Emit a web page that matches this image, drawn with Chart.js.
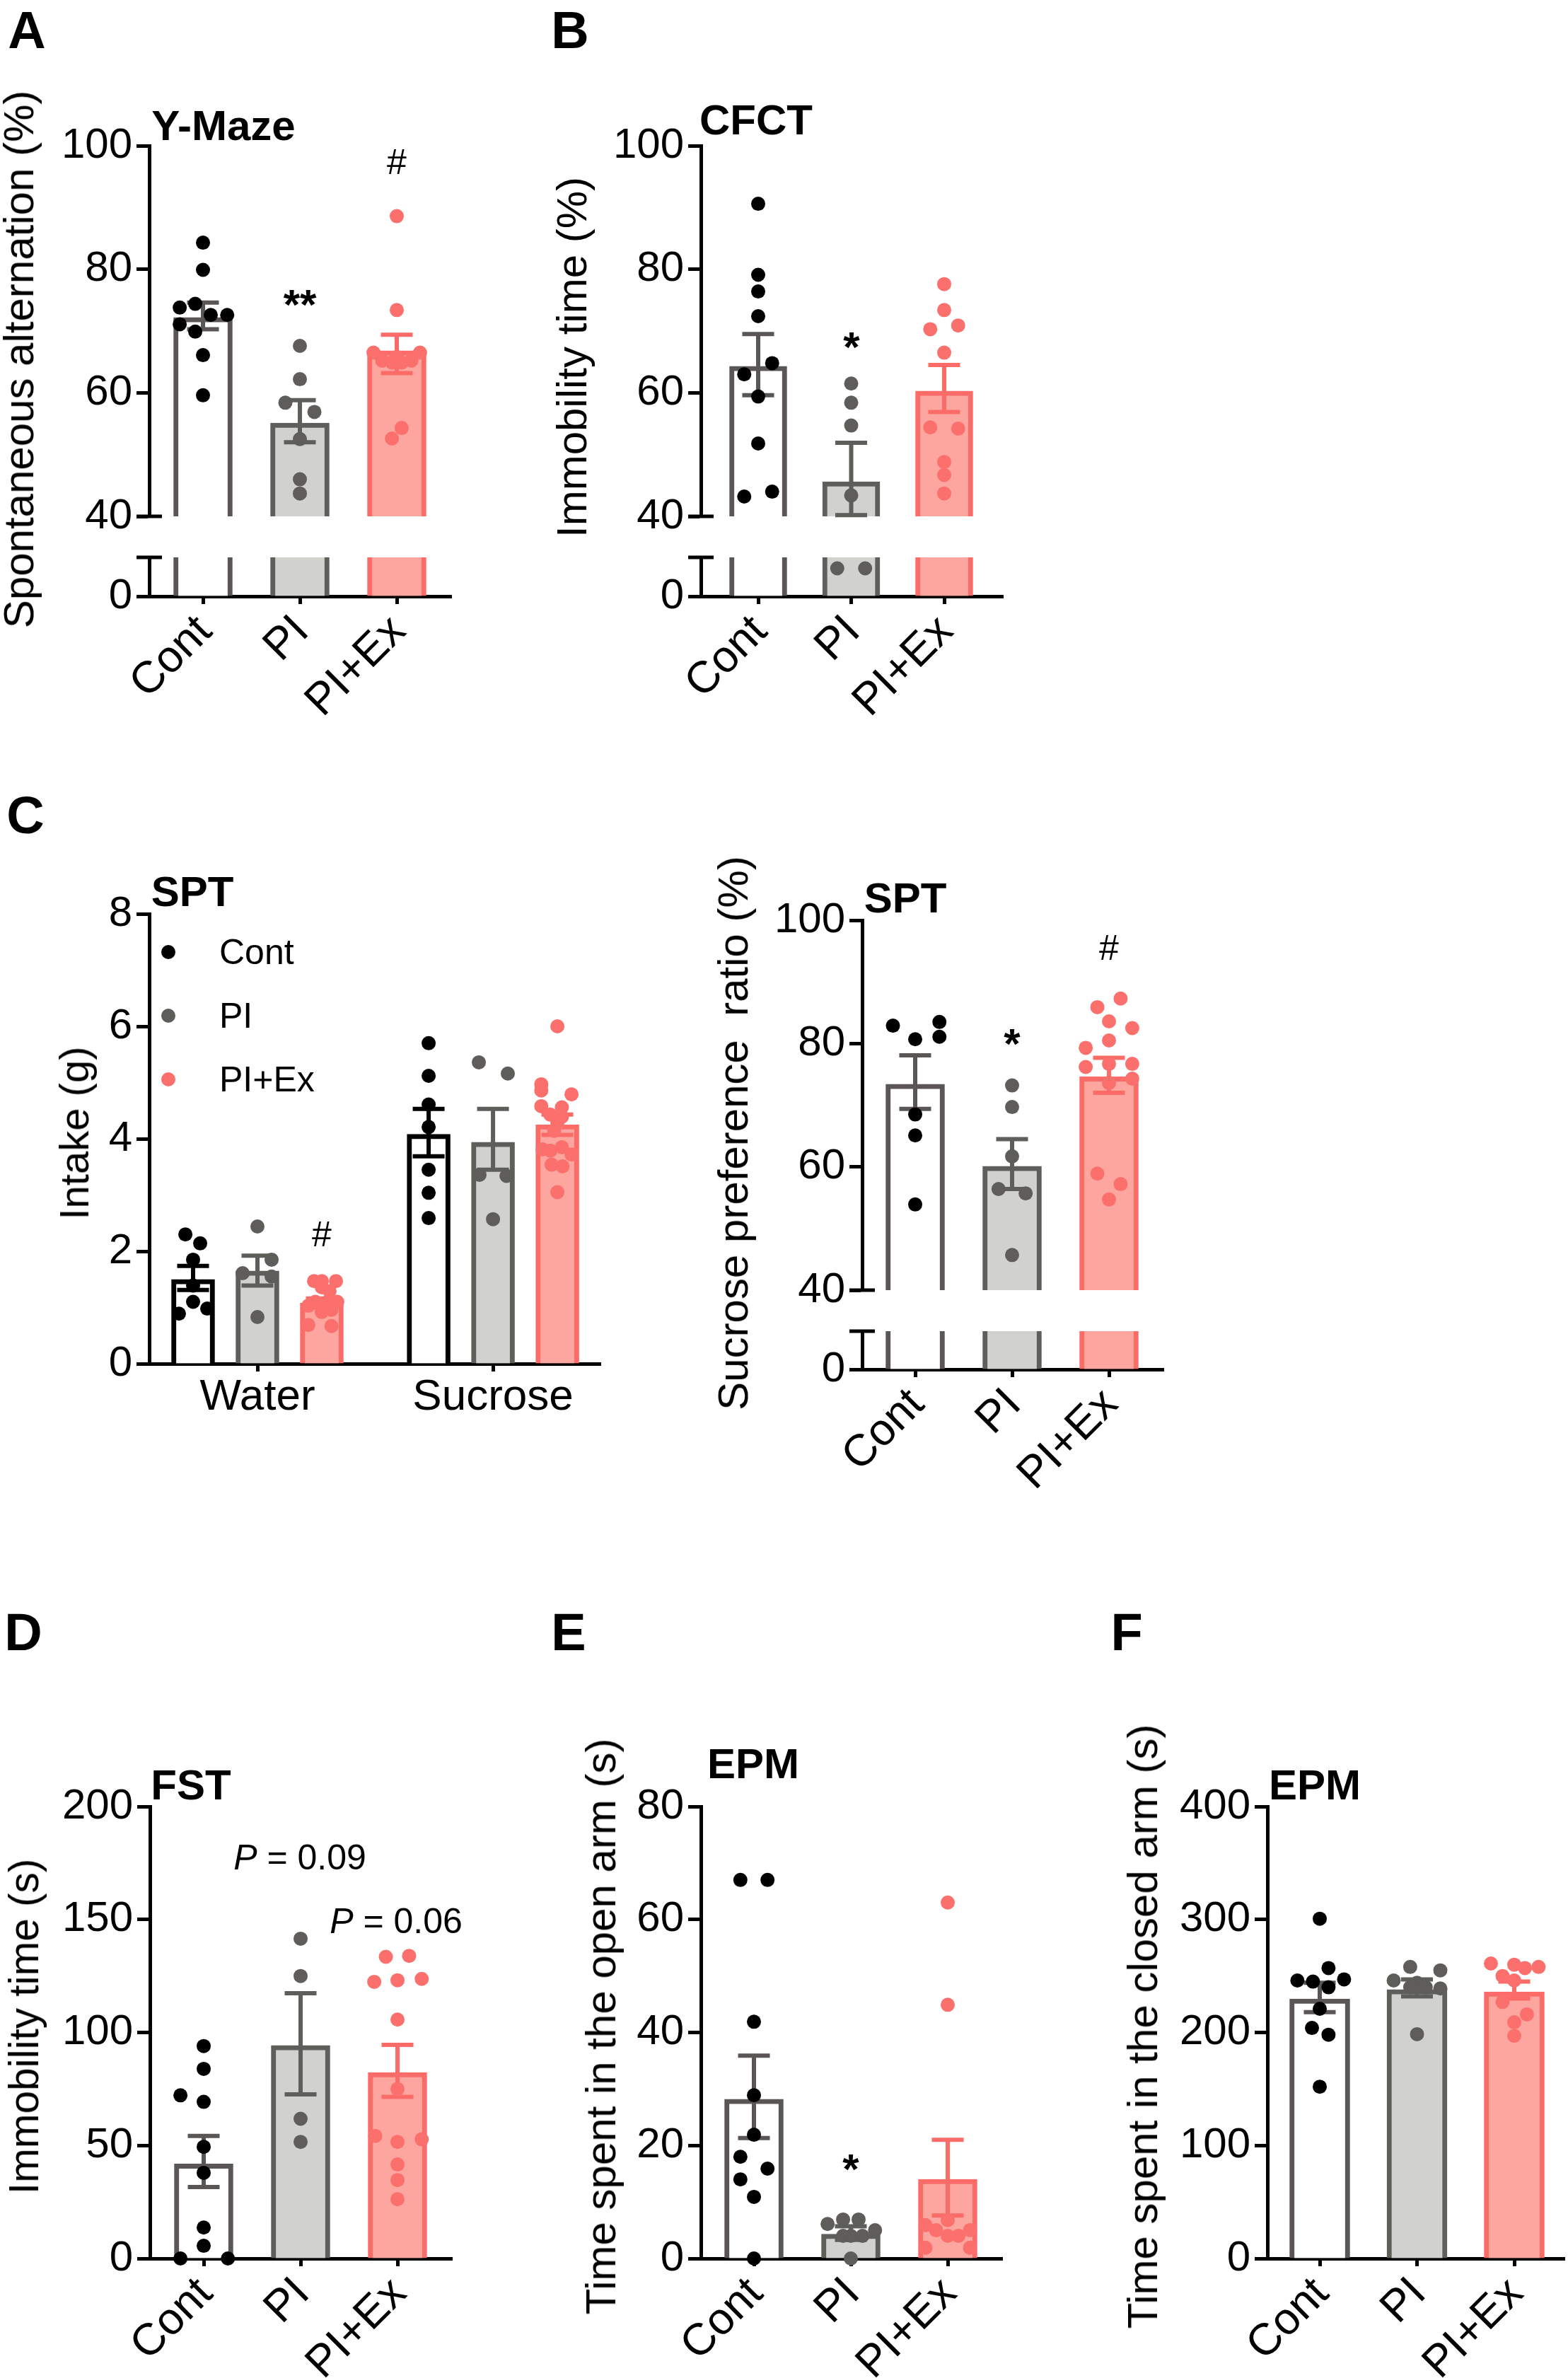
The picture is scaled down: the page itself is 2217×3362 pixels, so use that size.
<!DOCTYPE html>
<html>
<head>
<meta charset="utf-8">
<title>Behavioural tests</title>
<script src="https://cdn.jsdelivr.net/npm/chart.js@4"></script>
<style>
  html, body { margin: 0; background: #fff; }
  #page { position: relative; width: 2217px; height: 3362px; overflow: hidden; font-family: "Liberation Sans", Arial, sans-serif; color: #000; }
  canvas { position: absolute; }
  .txt { position: absolute; white-space: pre; line-height: 0; height: 0; }
  .dot { position: absolute; width: 20px; height: 20px; border-radius: 50%; }
</style>
</head>
<body>
<div id="page"></div>
<script>
const groupLabels = ['Cont', 'PI', 'PI+Ex']
const groupPositions = [0, 1, 2]
const intakeLabels = ['Water', 'Sucrose']
const intakeTicks = [0, 3.66]
const intakePositions = [-1, 0, 1, 2.66, 3.66, 4.66]

// dots are [horizontal jitter, value]
const mazeMeans = [72.2, 55.1, 66.8]
const mazeHigh = [74.6, 58.8, 69.4]
const mazeLow = [70.3, 52.0, 63.2]
const mazeCont = [[0, 84.3], [0, 79.9], [-0.24, 73.8], [-0.08, 74.4], [0.08, 72.6], [0.25, 72.6], [-0.24, 71.1], [-0.08, 69.9], [0, 66.1], [0, 59.6]]
const mazePi = [[0, 67.6], [0, 62.2], [-0.15, 58.4], [0.15, 56.9], [0, 52.5], [0, 46], [0, 43.7]]
const mazeEx = [[0, 88.6], [0, 73.4], [-0.24, 66.5], [0.24, 66.5], [-0.15, 65.2], [-0.05, 64.9], [0.05, 64.9], [0.15, 65.2], [0, 65.8], [0.05, 54.3], [-0.05, 52.6]]

const cfctMeans = [64.3, 45.6, 60.3]
const cfctHigh = [69.5, 51.9, 64.5]
const cfctLow = [59.6, 40.2, 56.9]
const cfctCont = [[0, 90.6], [0, 79.1], [0, 76.4], [0, 72.4], [0.15, 64.8], [-0.15, 63], [0, 59.4], [0, 51.8], [0.15, 44], [-0.15, 43.2]]
const cfctPi = [[0, 61.5], [0, 58.4], [0, 54.7], [0, 43.4], [-0.15, 28.7], [0.15, 28.7]]
const cfctEx = [[0, 77.6], [0, 73.4], [-0.15, 70.3], [0.15, 70.9], [0, 66.5], [-0.15, 54.4], [0.15, 54.2], [0, 48.8], [0, 46.7], [0, 43.7]]

const intakeMeans = [1.5, 1.65, 1.08, 4.08, 3.94, 4.25]
const intakeHigh = [1.74, 1.92, 1.16, 4.53, 4.53, 4.43]
const intakeLow = [1.31, 1.39, 1.0, 3.69, 3.45, 4.07]
const waterCont = [[-0.12, 2.3], [0.11, 2.14], [0, 1.85], [0, 1.39], [0, 1.1], [-0.22, 0.89], [0.22, 0.98]]
const waterPi = [[0, 2.44], [0.22, 1.85], [-0.23, 1.61], [0.22, 1.55], [0, 0.83]]
const waterEx = [[-0.12, 1.47], [0, 1.47], [0.22, 1.47], [0, 1.36], [0.12, 1.29], [-0.1, 1.1], [0.09, 1.1], [0.24, 1.1], [-0.21, 1.03], [0, 0.92], [0.15, 0.96], [-0.21, 0.69], [0.15, 0.67]]
const sucroseCont = [[0, 5.7], [0, 5.12], [0, 4.61], [0, 4.21], [0, 3.45], [0, 3.04], [0, 2.59]]
const sucrosePi = [[-0.22, 5.36], [0.23, 5.16], [-0.21, 3.36], [0.21, 3.34], [0, 2.57]]
const sucroseEx = [[0, 6], [-0.25, 4.97], [0.22, 4.79], [-0.25, 4.86], [-0.25, 4.58], [0.07, 4.56], [-0.11, 4.43], [0.07, 4.39], [0, 4.28], [-0.05, 4.14], [-0.23, 3.81], [0.07, 3.85], [0.22, 3.72], [-0.11, 3.79], [-0.09, 3.54], [0.08, 3.51], [0, 3.05]]

const ratioMeans = [73.4, 60.1, 74.6]
const ratioHigh = [78.1, 64.5, 77.7]
const ratioLow = [69.4, 56.4, 72]
const ratioCont = [[-0.23, 82.9], [0.25, 83.5], [0.25, 81.1], [0, 80.7], [0, 68.5], [0, 65.1], [0, 53.9]]
const ratioPi = [[0, 73.2], [0, 69.7], [0, 61.7], [-0.14, 56.4], [0.14, 55.7], [0, 45.7]]
const ratioEx = [[0.12, 87.3], [-0.12, 85.9], [0, 83.6], [0.24, 82.5], [0, 80.5], [-0.24, 79.3], [0, 76.7], [0.24, 76.7], [-0.24, 76.2], [0, 73.6], [0.24, 74.3], [-0.12, 58.9], [0.12, 57.2], [0, 54.7]]

const fstMeans = [41.8, 94.3, 82.3]
const fstHigh = [54.2, 117.4, 94.5]
const fstLow = [31.6, 72.6, 71.5]
const fstCont = [[0, 94], [0, 83.9], [-0.24, 72.2], [0, 69.3], [0, 49.4], [0, 37.9], [0, 13.7], [0, 5.6], [-0.24, 0], [0.25, 0]]
const fstPi = [[0, 141.5], [0, 125], [0, 61.8], [0, 51.6]]
const fstEx = [[-0.12, 133.5], [0.12, 133.9], [-0.24, 122.4], [0, 123.1], [0.25, 123.7], [0, 105.7], [0, 75], [-0.23, 54.2], [0.25, 52.7], [0, 51.6], [0, 41.6], [0, 34.7], [0, 26.2]]

const openMeans = [28.2, 4.3, 14]
const openHigh = [35.9, 5.7, 21]
const openLow = [21.3, 3.3, 7.6]
const openCont = [[-0.14, 67], [0.14, 67], [0, 41.9], [0, 28.9], [0, 21.9], [-0.14, 18], [0.14, 15.9], [-0.14, 14], [0, 10.9], [0, 0]]
const openPi = [[-0.24, 6.1], [-0.08, 6.9], [0.08, 6.9], [0.25, 5], [-0.08, 4], [0, 4], [0.12, 4], [0, 0]]
const openEx = [[0, 63], [0, 44.9], [0, 6.8], [-0.23, 5.9], [-0.12, 5], [0.23, 5], [0, 4], [0.11, 4], [-0.23, 1.9], [0.23, 1.9]]

const closedMeans = [229.7, 238, 236]
const closedHigh = [244, 247, 245]
const closedLow = [218, 232, 230]
const closedCont = [[0, 300.7], [0.09, 257], [-0.23, 246], [-0.07, 245], [0.25, 247], [0.09, 240], [0, 221], [-0.08, 204], [0.09, 198], [0, 152]]
const closedPi = [[-0.07, 258], [0.24, 255], [-0.24, 246], [0, 244], [-0.07, 240], [0.09, 240], [0.24, 239], [0, 198.5]]
const closedEx = [[-0.24, 261], [0, 260], [0.11, 257], [0.25, 258], [-0.12, 250], [0, 246], [-0.12, 227], [0.13, 216], [0, 209], [0, 197]]

const FILL = ['#ffffff', '#d1d2cd', '#fca69f']
const EDGE = ['#5a5655', '#5e5e5a', '#fb6c69']
const DOT = ['#000000', '#5e5d5a', '#fb6f6c']

Chart.defaults.font.family = '"Liberation Sans", Arial, sans-serif'
Chart.defaults.color = '#000'
Chart.defaults.animation = false

const page = document.getElementById('page')
const LEFT_ROOM = 190
const TOP_ROOM = 40

const errorBars = {
  id: 'errorBars',
  afterDatasetDraw(chart, args, opts) {
    if (args.index !== 0 || !opts.show) return
    const { ctx, scales } = chart
    ctx.save()
    opts.positions.forEach((pos, i) => {
      const x = scales.x.getPixelForValue(pos)
      const hi = scales.y.getPixelForValue(opts.high[i])
      const lo = scales.y.getPixelForValue(opts.low[i])
      ctx.strokeStyle = opts.colors[i]
      ctx.lineWidth = 6
      ctx.beginPath()
      ctx.moveTo(x, hi)
      ctx.lineTo(x, lo)
      ctx.moveTo(x - opts.cap / 2, hi)
      ctx.lineTo(x + opts.cap / 2, hi)
      ctx.moveTo(x - opts.cap / 2, lo)
      ctx.lineTo(x + opts.cap / 2, lo)
      ctx.stroke()
    })
    ctx.restore()
  },
}

// the short strokes either side of the axis where it is broken
const breakCap = {
  id: 'breakCap',
  afterDraw(chart, args, opts) {
    if (opts.at === undefined) return
    const { ctx, scales, chartArea } = chart
    const y = scales.y.getPixelForValue(opts.at)
    ctx.save()
    ctx.strokeStyle = '#000'
    ctx.lineWidth = 5
    ctx.beginPath()
    ctx.moveTo(chartArea.left - 18, y)
    ctx.lineTo(chartArea.left + 18, y)
    ctx.stroke()
    ctx.restore()
  },
}

function addSegment(p, seg) {
  const canvas = document.createElement('canvas')
  const bottomRoom = seg.axis ? p.xRoom : 60
  const w = LEFT_ROOM + (p.right - p.axisX) + 10
  const h = TOP_ROOM + (seg.bottom - seg.top) + bottomRoom
  canvas.width = w
  canvas.height = h
  canvas.style.left = `${p.axisX - LEFT_ROOM}px`
  canvas.style.top = `${seg.top - TOP_ROOM}px`
  page.appendChild(canvas)

  const datasets = [{
    type: 'bar',
    order: 3,
    data: p.means.map((y, i) => ({ x: p.positions[i], y })),
    backgroundColor: p.fill,
    borderColor: p.edge,
    borderWidth: 7,
    barThickness: p.barWidth,
  }]
  p.dots.forEach((group, i) => {
    datasets.push({
      type: 'scatter',
      order: 1,
      clip: false,
      data: group
        .filter(d => d[1] >= seg.min && d[1] < seg.limit)
        .map(d => ({ x: p.positions[i] + d[0], y: d[1] })),
      backgroundColor: p.dot[i],
      pointRadius: 10,
      pointBorderWidth: 0,
    })
  })

  new Chart(canvas, {
    type: 'bar',
    data: { datasets },
    plugins: [errorBars, breakCap],
    options: {
      responsive: false,
      devicePixelRatio: 1,
      layout: { padding: { top: TOP_ROOM, right: 10, left: 0, bottom: seg.axis ? 0 : bottomRoom } },
      plugins: {
        legend: { display: false },
        tooltip: { enabled: false },
        errorBars: { show: seg.errors, positions: p.positions, high: p.high, low: p.low, colors: p.err, cap: 45 },
        breakCap: { at: seg.capAt },
      },
      scales: {
        x: {
          type: 'linear',
          display: seg.axis,
          offset: false,
          min: -(p.tick0 - p.axisX) / p.unit,
          max: (p.right - p.tick0) / p.unit,
          grid: { offset: false, drawOnChartArea: false, drawTicks: true, tickLength: 11, tickWidth: 5, tickColor: '#000' },
          border: { display: true, width: 5, color: '#000' },
          afterBuildTicks: s => { s.ticks = p.ticks.map(value => ({ value })) },
          afterFit: s => { s.height = seg.axis ? p.xRoom : 0 },
          ticks: {
            autoSkip: false,
            minRotation: p.rotation,
            maxRotation: p.rotation,
            padding: p.rotation ? 2 : 0,
            labelOffset: p.rotation ? 3 : 0,
            font: { size: p.rotation ? 63 : 62 },
            callback: v => p.tickLabels[p.ticks.indexOf(v)],
          },
        },
        y: {
          min: seg.min,
          max: seg.max,
          grid: { drawOnChartArea: false, drawTicks: true, tickLength: 18, tickWidth: 5, tickColor: '#000' },
          border: { display: true, width: 5, color: '#000' },
          afterFit: s => { s.width = LEFT_ROOM },
          ticks: {
            stepSize: seg.step,
            padding: 6,
            font: { size: 60 },
            callback: v => (seg.hideTop && v === seg.max ? '' : v),
          },
        },
      },
    },
  })
}

function addPanel(p) {
  if (p.breakTop) {
    addSegment(p, { top: p.top, bottom: p.y40, min: 40, limit: Infinity, max: p.max, step: 20, errors: true, axis: false, capAt: 40 })
    addSegment(p, { top: p.breakTop, bottom: p.zero, min: 0, limit: 40, max: 40, step: 40, errors: false, axis: true, hideTop: true, capAt: 40 })
  } else {
    addSegment(p, { top: p.top, bottom: p.zero, min: 0, limit: Infinity, max: p.max, step: p.step, errors: true, axis: true })
  }
}

function addText(text, x, y, size, extra) {
  const el = document.createElement('div')
  el.className = 'txt'
  el.style.left = `${x}px`
  el.style.top = `${y}px`
  el.style.fontSize = `${size}px`
  el.style.transform = 'translate(-50%, 0)'
  Object.assign(el.style, extra || {})
  el.innerHTML = text
  page.appendChild(el)
}
const addBold = (text, x, y, size) => addText(text, x, y, size, { fontWeight: 'bold' })
const addYTitle = (text, x, y, size) => addText(text, x, y, size, { transform: 'translate(-50%, 0) rotate(-90deg)' })

const threeGroups = {
  positions: groupPositions,
  ticks: groupPositions,
  tickLabels: groupLabels,
  rotation: 45,
  xRoom: 190,
  fill: FILL,
  edge: EDGE,
  err: EDGE,
  dot: DOT,
  max: 100,
  barWidth: 83,
}

addPanel({ ...threeGroups, axisX: 211, right: 638, tick0: 287, unit: 137, top: 204, y40: 730, breakTop: 786, zero: 843,
  means: mazeMeans, high: mazeHigh, low: mazeLow, dots: [mazeCont, mazePi, mazeEx] })
addPanel({ ...threeGroups, axisX: 991, right: 1418, tick0: 1072, unit: 131.5, top: 204, y40: 730, breakTop: 786, zero: 843, barWidth: 81,
  means: cfctMeans, high: cfctHigh, low: cfctLow, dots: [cfctCont, cfctPi, cfctEx] })
addPanel({ ...threeGroups, axisX: 211, right: 849, tick0: 364, unit: 91, top: 1290, zero: 1928, max: 8, step: 2, barWidth: 61,
  positions: intakePositions, ticks: intakeTicks, tickLabels: intakeLabels, rotation: 0, xRoom: 90,
  fill: [...FILL, ...FILL], edge: ['#000000', EDGE[1], EDGE[2], '#000000', EDGE[1], EDGE[2]], err: ['#000000', EDGE[1], EDGE[2], '#000000', EDGE[1], EDGE[2]],
  dot: [...DOT, ...DOT],
  means: intakeMeans, high: intakeHigh, low: intakeLow, dots: [waterCont, waterPi, waterEx, sucroseCont, sucrosePi, sucroseEx] })
addPanel({ ...threeGroups, axisX: 1219, right: 1645, tick0: 1294, unit: 137, top: 1299, y40: 1824, breakTop: 1880, zero: 1936,
  means: ratioMeans, high: ratioHigh, low: ratioLow, dots: [ratioCont, ratioPi, ratioEx] })
addPanel({ ...threeGroups, axisX: 212, right: 639, tick0: 288, unit: 137, top: 2552, zero: 3193, max: 200, step: 50,
  means: fstMeans, high: fstHigh, low: fstLow, dots: [fstCont, fstPi, fstEx] })
addPanel({ ...threeGroups, axisX: 991, right: 1417, tick0: 1066, unit: 137, top: 2552, zero: 3193, max: 80, step: 20,
  means: openMeans, high: openHigh, low: openLow, dots: [openCont, openPi, openEx] })
addPanel({ ...threeGroups, axisX: 1792, right: 2212, tick0: 1866, unit: 137.5, top: 2552, zero: 3193, max: 400, step: 100, barWidth: 85,
  means: closedMeans, high: closedHigh, low: closedLow, dots: [closedCont, closedPi, closedEx] })

// panel letters
addBold('A', 38, 43, 74)
addBold('B', 806, 43, 74)
addBold('C', 36, 1153, 74)
addBold('D', 33, 2308, 74)
addBold('E', 804, 2308, 74)
addBold('F', 1593, 2308, 74)

// panel titles
addBold('Y-Maze', 316, 178, 60)
addBold('CFCT', 1069, 170, 60)
addBold('SPT', 272, 1261, 60)
addBold('SPT', 1280, 1270, 60)
addBold('FST', 270, 2524, 60)
addBold('EPM', 1065, 2494, 60)
addBold('EPM', 1859, 2524, 60)

// axis titles
addYTitle('Spontaneous alternation (%)', 27, 508, 60)
addYTitle('Immobility time (%)', 809, 505, 60)
addYTitle('Intake (g)', 105, 1602, 58)
addYTitle('Sucrose preference  ratio (%)', 1037, 1602, 60)
addYTitle('Immobility time (s)', 34, 2865, 58.5)
addYTitle('Time spent in the open arm (s)', 850, 2865, 60)
addYTitle('Time spent in the closed arm (s)', 1616, 2865, 60)

// significance marks
addBold('**', 424, 431, 60)
addText('#', 561, 229, 50)
addBold('*', 1204, 491, 60)
addText('#', 455, 1745, 50)
addBold('*', 1431, 1476, 60)
addText('#', 1568, 1340, 50)
addBold('*', 1203, 3067, 60)
addText('<i>P</i> = 0.09', 424, 2626, 50)
addText('<i>P</i> = 0.06', 560, 2716, 50)

// legend of panel C
groupLabels.forEach((label, i) => {
  const y = 1346 + i * 90
  const dot = document.createElement('div')
  dot.className = 'dot'
  dot.style.left = '228px'
  dot.style.top = `${y - 10}px`
  dot.style.background = DOT[i]
  page.appendChild(dot)
  addText(label, 310, y, 50, { transform: 'none' })
})
</script>
</body>
</html>
